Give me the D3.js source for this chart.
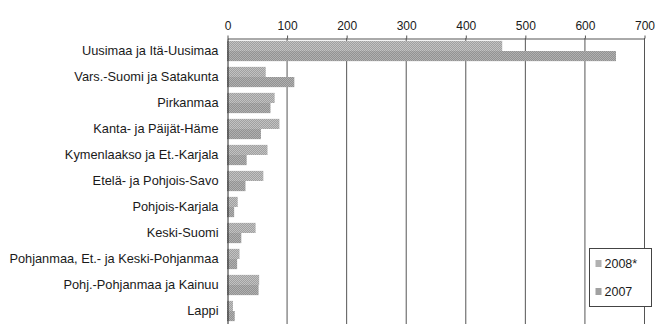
<!DOCTYPE html>
<html>
<head>
<meta charset="utf-8">
<script src="https://cdn.jsdelivr.net/npm/d3@7"></script>
<style>
  html, body { margin: 0; padding: 0; background: #fff; }
  svg { display: block; }
  text { font-family: "Liberation Sans", Arial, sans-serif; fill: #1a1a1a; }
</style>
</head>
<body>
<svg id="chart" width="666" height="324"></svg>
<script>
// Regions, top to bottom
const categories = [
  "Uusimaa ja Itä-Uusimaa",
  "Vars.-Suomi ja Satakunta",
  "Pirkanmaa",
  "Kanta- ja Päijät-Häme",
  "Kymenlaakso ja Et.-Karjala",
  "Etelä- ja Pohjois-Savo",
  "Pohjois-Karjala",
  "Keski-Suomi",
  "Pohjanmaa, Et.- ja Keski-Pohjanmaa",
  "Pohj.-Pohjanmaa ja Kainuu",
  "Lappi"
];
const seriesNames = ["2008*", "2007"];
const values2008 = [462, 65, 80, 88, 68, 61, 18, 48, 21, 54, 10];
const values2007 = [653, 113, 73, 57, 33, 31, 12, 24, 17, 53, 13];
const tickValues = [0, 100, 200, 300, 400, 500, 600, 700];

const svg = d3.select("#chart");
const plotLeft = 227, plotRight = 644, plotTop = 38, plotBottom = 324;

// Halftone-like dotted fills
const defs = svg.append("defs");
function halftone(id, dark, light) {
  const p = defs.append("pattern").attr("id", id)
    .attr("patternUnits", "userSpaceOnUse").attr("width", 2).attr("height", 2);
  p.append("rect").attr("width", 2).attr("height", 2).attr("fill", light);
  p.append("rect").attr("width", 1).attr("height", 1).attr("fill", dark);
  p.append("rect").attr("x", 1).attr("y", 1).attr("width", 1).attr("height", 1).attr("fill", dark);
}
halftone("fill2008", "#9a9a9a", "#c8c8c8");
halftone("fill2007", "#8c8c8c", "#b6b6b6");
const fills = { "2008*": "url(#fill2008)", "2007": "url(#fill2007)" };

const x = d3.scaleLinear().domain([0, 700]).range([plotLeft, plotRight]);
const y = d3.scaleBand().domain(categories).range([plotTop, plotBottom])
  .paddingInner(0.22).paddingOuter(0.11);
const ySub = d3.scaleBand().domain(seriesNames).range([0, y.bandwidth()]);

// Vertical gridlines
svg.append("g").selectAll("line").data(tickValues.slice(1)).join("line")
  .attr("x1", d => x(d) + 0.5).attr("x2", d => x(d) + 0.5)
  .attr("y1", plotTop).attr("y2", plotBottom)
  .attr("stroke", "#555").attr("stroke-width", 1);

// Bars
const rows = categories.map((c, i) => ({ c, v: { "2008*": values2008[i], "2007": values2007[i] } }));
const g = svg.append("g").selectAll("g").data(rows).join("g")
  .attr("transform", d => `translate(0,${y(d.c)})`);
g.selectAll("rect").data(d => seriesNames.map(s => ({ s, v: d.v[s] }))).join("rect")
  .attr("x", x(0)).attr("y", d => ySub(d.s))
  .attr("width", d => x(d.v) - x(0)).attr("height", ySub.bandwidth())
  .attr("fill", d => fills[d.s]);

// Top axis
const xAxis = d3.axisTop(x).tickValues(tickValues).tickSize(3).tickPadding(6).tickSizeOuter(0);
const ax = svg.append("g").attr("transform", `translate(0.5,${plotTop + 0.5})`).call(xAxis);
ax.select(".domain").attr("stroke", "#555");
ax.selectAll(".tick line").attr("stroke", "#555");
ax.selectAll(".tick text").attr("font-size", "12px").attr("fill", "#1a1a1a")
  .attr("font-family", "'Liberation Sans', Arial, sans-serif");

// Left axis with category labels
const yAxis = d3.axisLeft(y).tickSize(0).tickPadding(9);
const ay = svg.append("g").attr("transform", `translate(${plotLeft + 0.5},0)`).call(yAxis);
ay.select(".domain").attr("stroke", "#222");
ay.selectAll(".tick text").attr("font-size", "12.8px").attr("fill", "#1a1a1a")
  .attr("font-family", "'Liberation Sans', Arial, sans-serif");

// Legend
const lg = svg.append("g").attr("transform", "translate(589.5,248.5)");
lg.append("rect").attr("width", 62).attr("height", 58)
  .attr("fill", "#fff").attr("stroke", "#444");
const items = lg.selectAll("g").data(seriesNames).join("g")
  .attr("transform", (d, i) => `translate(6,${15 + i * 28})`);
items.append("rect").attr("x", 0).attr("y", -3.5).attr("width", 6).attr("height", 7)
  .attr("fill", d => fills[d]);
items.append("text").attr("x", 9).attr("dy", "0.35em")
  .attr("font-size", "12.5px").text(d => d);
</script>
</body>
</html>
